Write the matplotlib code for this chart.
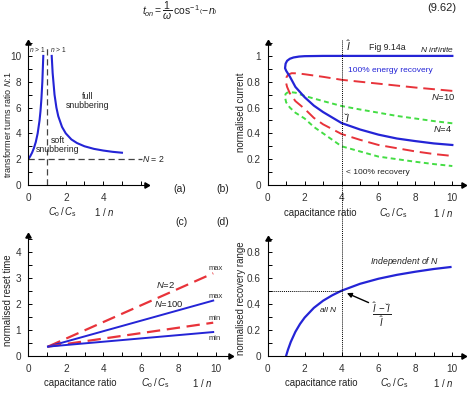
import matplotlib
matplotlib.use("Agg")
import matplotlib.pyplot as plt
import numpy as np
from matplotlib.lines import Line2D
from matplotlib.ticker import MultipleLocator
from matplotlib.transforms import blended_transform_factory

plt.rcParams['font.family'] = ['Liberation Sans', 'DejaVu Sans']
plt.rcParams['mathtext.fontset'] = 'custom'
plt.rcParams['mathtext.rm'] = 'Liberation Sans'
plt.rcParams['mathtext.it'] = 'Liberation Sans:italic'
plt.rcParams['mathtext.bf'] = 'Liberation Sans:bold'

# ---------------- data ----------------
# (a) turns ratio boundary
a_left_x = [0.0, 0.1, 0.2, 0.3, 0.4, 0.5, 0.6, 0.65, 0.7, 0.75, 0.8]
a_left_y = [2.0, 2.22, 2.5, 2.86, 3.33, 4.0, 5.0, 5.71, 6.67, 8.0, 10.0]
a_right_x = [1.25, 1.3, 1.4, 1.5, 1.6, 1.8, 2.0, 2.3, 2.6, 3.0, 3.5, 4.0, 4.5, 5.0]
a_right_y = [10.0, 8.67, 7.0, 6.0, 5.33, 4.5, 4.0, 3.53, 3.25, 3.0, 2.8, 2.67, 2.57, 2.5]
a_N2 = 2.0
a_xsplit = 1.0

# (b) normalised current
b_inf_up_x = [0.94, 0.97, 1.05, 1.2, 1.4, 1.7, 2.0, 3.0, 4.0, 6.0, 8.0, 10.0]
b_inf_up_y = [0.905, 0.94, 0.962, 0.978, 0.988, 0.995, 0.998, 1.0, 1.0, 1.0, 1.0, 1.0]
b_inf_lo_x = [0.94, 1.0, 1.2, 1.5, 2.0, 2.5, 3.0, 4.0, 5.0, 6.0, 7.0, 8.0, 9.0, 10.0]
b_inf_lo_y = [0.905, 0.885, 0.84, 0.76, 0.68, 0.615, 0.565, 0.48, 0.43, 0.39, 0.36, 0.34, 0.322, 0.31]
b_n10_up_x = [0.98, 1.02, 1.1, 1.3, 1.6, 2.0, 3.0, 4.0, 5.0, 6.0, 7.0, 8.0, 9.0, 10.0]
b_n10_up_y = [0.80, 0.835, 0.855, 0.866, 0.865, 0.858, 0.838, 0.815, 0.80, 0.785, 0.77, 0.755, 0.742, 0.729]
b_n10_lo_x = [0.98, 1.05, 1.2, 1.5, 2.0, 2.5, 3.0, 4.0, 5.0, 6.0, 7.0, 8.0, 9.0, 10.0]
b_n10_lo_y = [0.80, 0.76, 0.71, 0.65, 0.59, 0.52, 0.47, 0.395, 0.35, 0.31, 0.285, 0.26, 0.24, 0.225]
b_n4_up_x = [0.93, 0.97, 1.05, 1.2, 1.5, 2.0, 3.0, 4.0, 5.0, 6.0, 7.0, 8.0, 9.0, 10.0]
b_n4_up_y = [0.685, 0.705, 0.715, 0.72, 0.715, 0.69, 0.65, 0.612, 0.585, 0.56, 0.535, 0.515, 0.495, 0.478]
b_n4_lo_x = [0.93, 1.0, 1.2, 1.5, 2.0, 2.5, 3.0, 4.0, 5.0, 6.0, 7.0, 8.0, 9.0, 10.0]
b_n4_lo_y = [0.685, 0.64, 0.60, 0.56, 0.515, 0.45, 0.40, 0.30, 0.26, 0.22, 0.20, 0.18, 0.162, 0.147]
b_mark_x = 4.0

# (c) normalised reset time
c_x = [1.05, 9.85]
c_n2_max = [0.35, 3.17]
c_n100_max = [0.35, 2.12]
c_n2_min = [0.35, 1.27]
c_n100_min = [0.35, 0.91]

# (d) normalised recovery range
d_x = [1.0, 1.05, 1.1, 1.25, 1.5, 1.75, 2.0, 2.5, 3.0, 3.5, 4.0, 5.0, 6.0, 7.0, 8.0, 9.0, 9.9]
d_y = [0.0, 0.024, 0.047, 0.106, 0.184, 0.244, 0.293, 0.368, 0.423, 0.465, 0.5, 0.553, 0.592, 0.622, 0.646, 0.667, 0.682]
d_mark_y = 0.5

# ---------------- figure ----------------
W, H = 471, 399
fig = plt.figure(figsize=(W / 100, H / 100), dpi=100)

def rect(left, bottom, width, height):
    return [left / W, 1 - bottom / H, width / W, height / H]

ax_a = fig.add_axes(rect(28.3, 185, 118, 142))
ax_b = fig.add_axes(rect(267.7, 185, 195.7, 142))
ax_c = fig.add_axes(rect(28.3, 355.7, 201.8, 119.6))
ax_d = fig.add_axes(rect(267.7, 355.7, 195.7, 117))

BLUE = '#2424d6'
RED = '#e8333a'
GREEN = '#44dd44'
TS = 7.2
TXT = '#222222'

def style(ax, xmax, ymax, xmaj, xmin, ymaj, ymin):
    ax.set_xlim(0, xmax)
    ax.set_ylim(0, ymax)
    for s in ['top', 'right']:
        ax.spines[s].set_visible(False)
    for s in ['left', 'bottom']:
        ax.spines[s].set_linewidth(0.8)
    ax.xaxis.set_major_locator(MultipleLocator(xmaj))
    ax.xaxis.set_minor_locator(MultipleLocator(xmin))
    ax.yaxis.set_major_locator(MultipleLocator(ymaj))
    ax.yaxis.set_minor_locator(MultipleLocator(ymin))
    ax.tick_params(which='both', direction='in', length=3, width=0.7, labelsize=TS, colors='k')
    ax.tick_params(axis='x', pad=6, labelcolor='#333333')
    ax.tick_params(axis='y', pad=5, labelcolor='#333333')
    ax.patch.set_alpha(0)
    ax.plot(1, 0, marker=(3, 0, -90), color='k', ms=4.5, transform=ax.transAxes, clip_on=False)
    ax.plot(0, 1, marker=(3, 0, 0), color='k', ms=4.5, transform=ax.transAxes, clip_on=False)

style(ax_a, 6.3, 11, 2, 1, 2, 1)
ax_a.set_xticks([0, 2, 4])
style(ax_b, 10.6, 1.1, 2, 1, 0.2, 0.1)
ax_b.set_yticks([0, 0.2, 0.4, 0.6, 0.8, 1])
ax_b.set_yticklabels(['0', '0.2', '0.4', '0.6', '0.8', '1'])
style(ax_c, 10.75, 4.6, 2, 1, 1, 0.5)
ax_c.set_yticks([0, 1, 2, 3, 4])
style(ax_d, 10.6, 0.9, 2, 1, 0.2, 0.1)
ax_d.set_yticks([0, 0.2, 0.4, 0.6, 0.8])
ax_d.set_yticklabels(['0', '0.2', '0.4', '0.6', '0.8'])

# ---- panel a ----
ax_a.plot(a_left_x, a_left_y, color=BLUE, lw=1.5)
ax_a.plot(a_right_x, a_right_y, color=BLUE, lw=1.5)
ax_a.plot([a_xsplit, a_xsplit], [0, 10.6], color='#444444', lw=0.9, ls=(0, (5, 3)), clip_on=False)
ax_a.plot([0, 6.05], [a_N2, a_N2], color='#444444', lw=0.9, ls=(0, (5, 3)), clip_on=False)

# ---- panel b ----
def loop(ux, uy, lx, ly):
    return list(ux[::-1]) + list(lx[1:]), list(uy[::-1]) + list(ly[1:])

x, y = loop(b_n4_up_x, b_n4_up_y, b_n4_lo_x, b_n4_lo_y)
ax_b.plot(x, y, color=GREEN, lw=1.4, ls=(0, (2.5, 1.8)))
x, y = loop(b_n10_up_x, b_n10_up_y, b_n10_lo_x, b_n10_lo_y)
ax_b.plot(x, y, color=RED, lw=1.4, ls=(0, (6, 3)))
x, y = loop(b_inf_up_x, b_inf_up_y, b_inf_lo_x, b_inf_lo_y)
ax_b.plot(x, y, color=BLUE, lw=1.6)

# ---- panel c ----
ax_c.plot(c_x, c_n2_max, color=RED, lw=1.6, ls=(0, (6, 3)))
ax_c.plot(c_x, c_n100_max, color=BLUE, lw=1.4)
ax_c.plot(c_x, c_n2_min, color=RED, lw=1.6, ls=(0, (6, 3)))
ax_c.plot(c_x, c_n100_min, color=BLUE, lw=1.4)

# ---- panel d ----
ax_d.plot(d_x, d_y, color=BLUE, lw=1.6)
ax_d.plot([0, b_mark_x], [d_mark_y, d_mark_y], color='k', lw=0.7, ls=(0, (1, 1)))

# long vertical dotted line through (b) and (d)
tr = blended_transform_factory(ax_b.transData, fig.transFigure)
fig.add_artist(Line2D([b_mark_x, b_mark_x], [1 - 40 / H, 1 - 355.7 / H], transform=tr,
                      color='k', lw=0.7, ls=(0, (1, 1))))

# arrow in d
ax_d.annotate('', xy=(4.15, 0.49), xytext=(5.6, 0.40),
              arrowprops=dict(arrowstyle='-|>', color='k', lw=1.0, mutation_scale=7))

# ---------------- texts (pixel placed) ----------------
def T(x, y, s, size=6.5, **kw):
    fig.text(x / W, 1 - y / H, s, fontsize=size, ha=kw.pop('ha', 'center'),
             va=kw.pop('va', 'center'), **kw)

# equation header
T(180, 11, r'$t_{on} = \dfrac{1}{\omega}\,\cos^{-1}\left(-n\right)$', size=7.5, color=TXT)
T(442, 8, '(9.62)', size=8, color=TXT)

# y labels
T(8, 125, r'transformer turns ratio $N$:1', size=6.5, rotation=90, color=TXT)
T(241, 112, 'normalised current', size=6.9, rotation=90, color=TXT)
T(8, 300, 'normalised reset time', size=6.9, rotation=90, color=TXT)
T(241, 298, 'normalised recovery range', size=6.9, rotation=90, color=TXT)

# x labels
CO = r'$C_{\rm o}\,/\,C_{\rm s}$'
ONE_N = r'1 / $n$'
XS = 6.9
T(62, 212, CO, size=XS, color=TXT)
T(104, 212, ONE_N, size=XS, color=TXT)
T(320, 213, 'capacitance ratio', size=XS, color=TXT)
T(393, 213, CO, size=XS, color=TXT)
T(443, 213, ONE_N, size=XS, color=TXT)
T(80, 383, 'capacitance ratio', size=XS, color=TXT)
T(155, 383, CO, size=XS, color=TXT)
T(202, 383, ONE_N, size=XS, color=TXT)
T(321, 383, 'capacitance ratio', size=XS, color=TXT)
T(394, 383, CO, size=XS, color=TXT)
T(443, 383, ONE_N, size=XS, color=TXT)

# panel letters
T(180, 189, '(a)', size=7.5, color=TXT)
T(223, 189, '(b)', size=7.5, color=TXT)
T(181, 222, '(c)', size=7.5, color=TXT)
T(223, 222, '(d)', size=7.5, color=TXT)

# panel a annotations
T(46, 50, r'$n$ > 1', size=4.8, ha='right', color=TXT)
T(49.5, 50, r'$n$ > 1', size=4.8, ha='left', color=TXT)
T(88, 101, 'full\nsnubbering', size=6.3, color=TXT, linespacing=1.0)
T(58, 145, 'soft\nsnubbering', size=6.3, color=TXT, linespacing=1.0)
T(153, 159, r'$N$ = 2', size=6.3, color=TXT)

# panel b annotations
T(349, 46, r'$\hat{I}$', size=7.5, color=TXT)
T(387, 47, 'Fig 9.14a', size=6.3, color=TXT)
T(437, 50, r'$N$ $\it{infinite}$', size=6.0, color=TXT)
T(390, 70, '100% energy recovery', size=6.0, color=BLUE)
T(443, 97, r'$N$=10', size=6.8, color=TXT)
T(347, 118, r'$\check{I}$', size=7.5, color=TXT)
T(443, 129, r'$N$=4', size=6.8, color=TXT)
T(378, 172, '< 100% recovery', size=6.0, color=TXT)

# panel c annotations
T(166, 285, r'$N$=2', size=6.8, color=TXT)
T(169, 304, r'$N$=100', size=6.8, color=TXT)
T(216, 268, 'max', size=5.5, color='#333333')
T(216, 297, 'max', size=5.5, color='#333333')
T(215, 318, 'min', size=5.5, color='#333333')
T(215, 338, 'min', size=5.5, color='#333333')

# panel d annotations
T(405, 261, r'$Independent\ of\ N$', size=6.3, color=TXT)
T(328, 309, r'$all\ N$', size=6.0, color=TXT)
T(382, 315, r'$\dfrac{\hat{I}\,-\,\check{I}}{\hat{I}}$', size=7.0, color=TXT)

fig.savefig('out.png', dpi=100)
